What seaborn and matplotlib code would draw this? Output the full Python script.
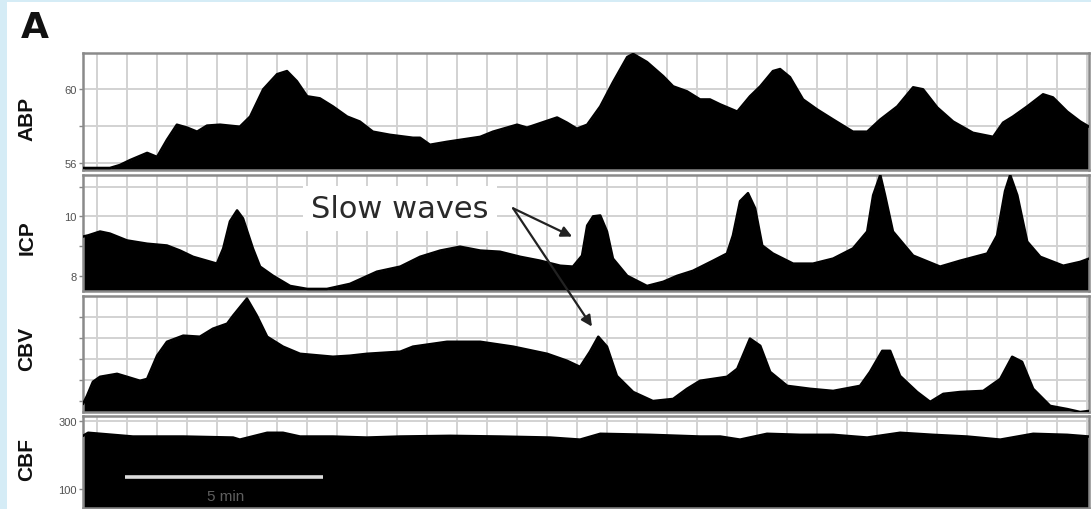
import matplotlib
matplotlib.use("Agg")
import matplotlib.pyplot as plt
from matplotlib.ticker import MultipleLocator, FixedLocator
from matplotlib.patches import Rectangle
import seaborn as sns

# ---------------- data (time in minutes) ----------------
abp_t = [0.00, 0.68, 0.93, 1.19, 1.62, 1.87, 2.12, 2.37, 2.63, 2.88, 3.13, 3.46, 3.96, 4.22,
         4.55, 4.90, 5.15, 5.40, 5.66, 5.98, 6.31, 6.67, 6.99, 7.32, 7.75, 8.33, 8.51, 8.76,
         9.19, 10.03, 10.35, 10.96, 11.21, 11.97, 12.22, 12.47, 12.73, 13.06, 13.38, 13.74,
         13.89, 14.24, 14.65, 14.90, 15.25, 15.58, 15.83, 16.09, 16.52, 16.84, 17.10, 17.42,
         17.60, 17.85, 18.18, 18.54, 18.94, 19.44, 19.80, 20.13, 20.56, 20.96, 21.21, 21.57,
         21.97, 22.47, 22.98, 23.23, 23.48, 23.84, 24.24, 24.49, 24.85, 25.18, 25.40]
abp_v = [55.73, 55.73, 55.89, 56.16, 56.55, 56.33, 57.26, 58.08, 57.92, 57.70, 58.03, 58.08,
         57.97, 58.52, 60.00, 60.82, 60.99, 60.44, 59.62, 59.51, 59.07, 58.52, 58.25, 57.70,
         57.53, 57.37, 57.37, 56.99, 57.15, 57.42, 57.70, 58.08, 57.92, 58.47, 58.19, 57.86,
         58.08, 59.07, 60.38, 61.75, 61.92, 61.48, 60.71, 60.16, 59.89, 59.45, 59.45, 59.18,
         58.79, 59.62, 60.16, 60.99, 61.10, 60.66, 59.45, 58.90, 58.36, 57.70, 57.70, 58.36,
         59.07, 60.11, 60.00, 59.01, 58.25, 57.64, 57.42, 58.19, 58.52, 59.07, 59.73, 59.56,
         58.79, 58.25, 57.97]

icp_t = [0.00, 0.13, 0.43, 0.68, 1.11, 1.62, 2.12, 2.45, 2.78, 3.38, 3.54, 3.71, 3.89, 4.04,
         4.29, 4.47, 4.80, 5.23, 5.66, 6.16, 6.74, 7.42, 8.01, 8.51, 9.02, 9.52, 10.03, 10.53,
         11.04, 11.54, 12.05, 12.37, 12.60, 12.73, 12.88, 13.06, 13.23, 13.38, 13.74, 14.24,
         14.65, 15.00, 15.40, 15.91, 16.26, 16.41, 16.59, 16.79, 16.97, 17.15, 17.42, 17.93,
         18.43, 18.94, 19.44, 19.80, 19.95, 20.13, 20.25, 20.45, 20.96, 21.64, 22.15, 22.83,
         23.08, 23.28, 23.41, 23.59, 23.84, 24.17, 24.75, 25.18, 25.40]
icp_v = [9.32, 9.36, 9.49, 9.42, 9.19, 9.08, 9.02, 8.85, 8.64, 8.41, 8.92, 9.83, 10.20, 9.93,
         8.92, 8.31, 8.00, 7.66, 7.56, 7.56, 7.73, 8.14, 8.31, 8.64, 8.85, 8.98, 8.85, 8.81,
         8.64, 8.51, 8.34, 8.31, 8.68, 9.69, 10.00, 10.03, 9.49, 8.58, 8.00, 7.66, 7.80, 8.00,
         8.17, 8.51, 8.75, 9.36, 10.51, 10.78, 10.27, 9.02, 8.75, 8.41, 8.41, 8.58, 8.92, 9.49,
         10.71, 11.39, 10.71, 9.49, 8.68, 8.31, 8.51, 8.75, 9.36, 10.85, 11.39, 10.71, 9.15,
         8.64, 8.34, 8.47, 8.58]

cbv_t = [0.00, 0.10, 0.25, 0.43, 0.86, 1.11, 1.44, 1.62, 1.87, 2.12, 2.53, 2.95, 3.28, 3.64,
         3.79, 4.14, 4.39, 4.65, 5.05, 5.48, 6.31, 6.74, 7.17, 8.01, 8.33, 9.19, 10.03, 10.86,
         11.72, 12.22, 12.55, 12.80, 13.01, 13.23, 13.48, 13.89, 14.39, 14.90, 15.25, 15.58,
         16.26, 16.52, 16.84, 17.10, 17.35, 17.78, 18.36, 18.94, 19.62, 19.87, 20.18, 20.38,
         20.63, 21.06, 21.39, 21.72, 22.15, 22.73, 23.16, 23.46, 23.71, 23.99, 24.42, 24.85,
         25.18, 25.40]
cbv_v = [0.88, 1.26, 1.93, 2.17, 2.31, 2.17, 1.98, 2.07, 3.17, 3.83, 4.12, 4.07, 4.45, 4.69,
         5.07, 5.88, 5.07, 4.07, 3.60, 3.26, 3.12, 3.17, 3.26, 3.36, 3.60, 3.83, 3.83, 3.60,
         3.26, 2.93, 2.64, 3.36, 4.07, 3.60, 2.21, 1.45, 1.02, 1.12, 1.60, 1.98, 2.17, 2.55,
         3.98, 3.64, 2.40, 1.74, 1.60, 1.50, 1.74, 2.40, 3.40, 3.40, 2.21, 1.45, 0.98, 1.36,
         1.45, 1.50, 2.07, 3.12, 2.88, 1.60, 0.79, 0.64, 0.50, 0.55]

cbf_t = [0.00, 0.13, 1.26, 2.53, 3.79, 3.96, 4.65, 5.05, 5.48, 6.31, 7.17, 8.01, 9.27, 10.53,
         11.79, 12.55, 13.06, 14.32, 15.58, 16.09, 16.59, 17.27, 18.11, 18.94, 19.80, 20.63,
         21.46, 22.32, 23.16, 23.99, 24.85, 25.40]
cbf_v = [256, 265, 254, 254, 251, 245, 265, 265, 254, 254, 251, 254, 256, 254, 251, 245, 262,
         259, 254, 254, 245, 262, 259, 259, 251, 265, 259, 254, 245, 262, 259, 254]

panel_names = ["ABP", "ICP", "CBV", "CBF"]
abp_ticks, abp_ticklabels = [56, 58, 60], ["56", "", "60"]
icp_ticks, icp_ticklabels = [8, 9, 10, 11], ["8", "", "10", ""]
cbv_ticks, cbv_ticklabels = [1, 2, 3, 4, 5], ["", "", "", "", ""]
cbf_ticks, cbf_ticklabels = [100, 300], ["100", "300"]

scalebar_start, scalebar_minutes = 1.06, 5
annotation_text = "Slow waves"

# ---------------- styling ----------------
sns.set_theme(style="white")
plt.rcParams["font.family"] = ["Liberation Sans", "DejaVu Sans"]

W, H = 1091, 510
fig = plt.figure(figsize=(W / 100, H / 100), dpi=100)
fig.patch.set_facecolor("white")
fig.add_artist(Rectangle((0, 0), 7 / W, 1, transform=fig.transFigure,
                         facecolor="#d5ecf6", edgecolor="none", zorder=0))
fig.add_artist(Rectangle((0, 1 - 3 / H), 1, 3 / H, transform=fig.transFigure,
                         facecolor="#d5ecf6", edgecolor="none", zorder=0))

left, right = 83 / W, 1089 / W
def rect(top_px, bot_px):
    return [left, 1 - bot_px / H, right - left, (bot_px - top_px) / H]

specs = [
    (abp_t, abp_v, (55.62, 61.97), abp_ticks, abp_ticklabels, rect(54, 171)),
    (icp_t, icp_v, (7.49, 11.39), icp_ticks, icp_ticklabels, rect(176, 292)),
    (cbv_t, cbv_v, (0.5, 6.0), cbv_ticks, cbv_ticklabels, rect(297, 413)),
    (cbf_t, cbf_v, (45, 314), cbf_ticks, cbf_ticklabels, rect(417, 509)),
]

axes = []
for (t, v, ylim, ticks, labels, r) in specs:
    ax = fig.add_axes(r)
    ax.set_facecolor("white")
    ax.fill_between(t, v, ylim[0], color="black", lw=0, zorder=2)
    sns.lineplot(x=t, y=v, ax=ax, color="black", lw=1.8, zorder=3)
    ax.set_xlim(0, 25.4)
    ax.set_ylim(*ylim)
    ax.xaxis.set_major_locator(MultipleLocator(0.7576, offset=0.354))
    ax.yaxis.set_major_locator(FixedLocator(ticks))
    ax.set_yticklabels(labels)
    ax.grid(True, color="#d2d2d2", lw=1.4)
    ax.set_axisbelow(True)
    ax.tick_params(axis="x", length=0, labelbottom=False)
    ax.tick_params(axis="y", left=True, length=3, width=1, color="#888888",
                   labelsize=8, labelcolor="#505050", pad=1.5)
    for sp in ax.spines.values():
        sp.set_color("#8a8a8a")
        sp.set_linewidth(1.8)
    ax.set_xlabel("")
    ax.set_ylabel("")
    axes.append(ax)

ax_abp, ax_icp, ax_cbv, ax_cbf = axes

# panel names
for name, yc in zip(panel_names, [119, 238, 349, 460]):
    fig.text(27 / W, 1 - yc / H, name, rotation=90, ha="center", va="center",
             fontsize=15, fontweight="bold", color="#111111")

# panel letter
fig.text(21 / W, 1 - 38 / H, "A", fontsize=26, fontweight="bold", ha="left",
         va="baseline", color="#111111", family=["DejaVu Sans"])

# scale bar
ax_cbf.plot([scalebar_start, scalebar_start + scalebar_minutes], [135, 135],
            color="#dcdcdc", lw=2.6, solid_capstyle="butt", zorder=5)
ax_cbf.text(scalebar_start + scalebar_minutes / 2 + 0.05, 80, "5 min",
            ha="center", va="center", fontsize=11, color="#5e5e5e", zorder=5)

# slow waves annotation
ax_icp.text(8.0, 10.27, annotation_text, ha="center", va="center", fontsize=22,
            color="#2a2a2a", family=["DejaVu Sans"], zorder=6,
            bbox=dict(facecolor="white", edgecolor="none", pad=6))
arrow_kw = dict(arrowstyle="-|>", color="#222222", lw=1.6, mutation_scale=16,
                shrinkA=0, shrinkB=0)
ax_cbv.annotate("", xy=(12.35, 9.32), xycoords=ax_icp.transData,
                xytext=(10.86, 10.27), textcoords=ax_icp.transData,
                arrowprops=arrow_kw, annotation_clip=False, zorder=10)
ax_cbv.annotate("", xy=(12.85, 4.55), xycoords=ax_cbv.transData,
                xytext=(10.86, 10.27), textcoords=ax_icp.transData,
                arrowprops=arrow_kw, annotation_clip=False, zorder=10)

fig.savefig("out.png", dpi=100, facecolor=fig.get_facecolor())
